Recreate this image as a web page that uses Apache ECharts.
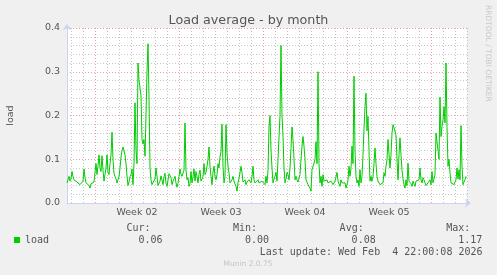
<!DOCTYPE html>
<html>
<head>
<meta charset="utf-8">
<script src="https://cdn.jsdelivr.net/npm/echarts@6/dist/echarts.min.js"></script>
<style>
  html, body { margin: 0; padding: 0; background: #f0f0f0; }
  #chart { width: 497px; height: 275px; }
</style>
</head>
<body>
<div id="chart"></div>
<script>
// ---- data (hours relative to Mon Jan 5 2026 00:00, 2-hour samples) ----
const startHour = -56;
const stepHours = 2;
const loadValues = [
  0.046, 0.05, 0.061, 0.05, 0.055, 0.072, 0.06, 0.053, 0.05, 0.056,
  0.048, 0.05, 0.044, 0.042, 0.046, 0.042, 0.05, 0.078, 0.058, 0.046,
  0.048, 0.044, 0.04, 0.034, 0.044, 0.046, 0.042, 0.048, 0.07, 0.09,
  0.065, 0.085, 0.11, 0.08, 0.072, 0.108, 0.075, 0.05, 0.046, 0.08,
  0.11, 0.07, 0.065, 0.09, 0.11, 0.162, 0.1, 0.068, 0.061, 0.055,
  0.046, 0.05, 0.06, 0.08, 0.105, 0.12, 0.128, 0.13, 0.11, 0.09,
  0.062, 0.04, 0.048, 0.06, 0.065, 0.078, 0.042, 0.09, 0.229, 0.12,
  0.09, 0.32, 0.282, 0.28, 0.245, 0.145, 0.135, 0.145, 0.107, 0.2,
  0.3, 0.364, 0.24, 0.08, 0.053, 0.042, 0.04, 0.045, 0.055, 0.08,
  0.06, 0.04, 0.038, 0.05, 0.062, 0.065, 0.042, 0.06, 0.068, 0.045,
  0.038, 0.052, 0.067, 0.065, 0.058, 0.042, 0.05, 0.055, 0.061, 0.046,
  0.036, 0.045, 0.06, 0.078, 0.066, 0.061, 0.065, 0.075, 0.183, 0.075,
  0.053, 0.058, 0.038, 0.045, 0.072, 0.046, 0.06, 0.078, 0.05, 0.072,
  0.061, 0.046, 0.066, 0.075, 0.05, 0.046, 0.06, 0.09, 0.065, 0.07,
  0.084, 0.1, 0.128, 0.084, 0.061, 0.042, 0.07, 0.084, 0.061, 0.053,
  0.065, 0.09, 0.08, 0.105, 0.118, 0.18, 0.084, 0.046, 0.061, 0.179,
  0.115, 0.084, 0.069, 0.046, 0.05, 0.053, 0.061, 0.05, 0.046, 0.038,
  0.027, 0.046, 0.056, 0.07, 0.084, 0.069, 0.048, 0.05, 0.053, 0.042,
  0.048, 0.046, 0.053, 0.05, 0.046, 0.061, 0.084, 0.053, 0.046, 0.046,
  0.05, 0.053, 0.046, 0.05, 0.046, 0.05, 0.053, 0.046, 0.042, 0.061,
  0.046, 0.075, 0.175, 0.2, 0.12, 0.08, 0.046, 0.055, 0.061, 0.07,
  0.05, 0.048, 0.053, 0.2, 0.36, 0.2, 0.152, 0.08, 0.046, 0.055,
  0.07, 0.065, 0.053, 0.08, 0.125, 0.174, 0.145, 0.1, 0.053, 0.061,
  0.053, 0.048, 0.05, 0.065, 0.1, 0.13, 0.152, 0.13, 0.1, 0.053,
  0.05, 0.042, 0.038, 0.034, 0.027, 0.076, 0.072, 0.076, 0.099, 0.14,
  0.09, 0.30, 0.09, 0.046, 0.061, 0.038, 0.065, 0.05, 0.046, 0.05,
  0.053, 0.046, 0.042, 0.046, 0.05, 0.053, 0.042, 0.046, 0.05, 0.053,
  0.07, 0.05, 0.046, 0.038, 0.053, 0.046, 0.042, 0.05, 0.046, 0.034,
  0.042, 0.053, 0.084, 0.061, 0.08, 0.13, 0.09, 0.29, 0.12, 0.061,
  0.046, 0.053, 0.038, 0.076, 0.046, 0.061, 0.11, 0.17, 0.22, 0.251,
  0.165, 0.198, 0.12, 0.05, 0.061, 0.05, 0.06, 0.09, 0.126, 0.09,
  0.06, 0.05, 0.046, 0.042, 0.04, 0.038, 0.046, 0.069, 0.061, 0.084,
  0.099, 0.145, 0.149, 0.08, 0.11, 0.16, 0.179, 0.172, 0.168, 0.155,
  0.1, 0.053, 0.11, 0.149, 0.11, 0.075, 0.055, 0.042, 0.034, 0.053,
  0.04, 0.091, 0.05, 0.053, 0.044, 0.038, 0.05, 0.046, 0.038, 0.05,
  0.046, 0.05, 0.053, 0.08, 0.053, 0.046, 0.058, 0.053, 0.046, 0.04,
  0.038, 0.046, 0.05, 0.053, 0.042, 0.072, 0.046, 0.055, 0.065, 0.16,
  0.16, 0.12, 0.1, 0.242, 0.152, 0.175, 0.19, 0.22, 0.183, 0.32,
  0.175, 0.084, 0.1, 0.069, 0.046, 0.042, 0.046, 0.042, 0.046, 0.053,
  0.08, 0.055, 0.076, 0.053, 0.177, 0.084, 0.042, 0.048, 0.053, 0.061
];
const weekStarts = [0, 168, 336, 504, 672];
const weekLabels = ['Week 02', 'Week 03', 'Week 04', 'Week 05'];
const weekLabelHours = [84, 252, 420, 588];
const yTicks = [0, 0.1, 0.2, 0.3, 0.4];
const statLabels = ['Cur:', 'Min:', 'Avg:', 'Max:'];
const statValues = ['0.06', '0.00', '0.08', '1.17'];
const seriesName = 'load';
const lastUpdate = 'Last update: Wed Feb  4 22:00:08 2026';
const xMin = -56, xMax = 744;

// ---- build ----
const seriesData = loadValues.map((v, i) => [startHour + i * stepHours, v]);
const dayLines = [];
for (let h = -48; h <= xMax; h += 24) {
  if (weekStarts.indexOf(h) >= 0) continue;
  dayLines.push({ xAxis: h, lineStyle: { color: '#c4c4c4', type: [1, 2], width: 1 } });
}
const weekLines = weekStarts.map(h => ({ xAxis: h, lineStyle: { color: '#e8a0a0', type: [1, 2], width: 1 } }));

const FONT = 'DejaVu Sans';
const MONO = 'DejaVu Sans Mono';
const chart = echarts.init(document.getElementById('chart'), null, { renderer: 'canvas' });

const graphics = [];
statLabels.forEach((t, k) => {
  graphics.push({ type: 'text', x: 150.5 + 106.6 * k, y: 228, silent: true,
    style: { text: t, font: '10px ' + MONO, fill: '#555', align: 'right', verticalAlign: 'middle' } });
  graphics.push({ type: 'text', x: 162.5 + 106.6 * k, y: 240, silent: true,
    style: { text: statValues[k], font: '10px ' + MONO, fill: '#555', align: 'right', verticalAlign: 'middle' } });
});
graphics.push({ type: 'text', x: 482.5, y: 252, silent: true,
  style: { text: lastUpdate, font: '10px ' + MONO, fill: '#555', align: 'right', verticalAlign: 'middle' } });
graphics.push({ type: 'text', x: 248, y: 264, silent: true,
  style: { text: 'Munin 2.0.75', font: '7.5px ' + FONT, fill: '#c4c4c4', align: 'center', verticalAlign: 'middle' } });
graphics.push({ type: 'text', x: 488, y: 5, rotation: -Math.PI / 2, silent: true,
  style: { text: 'RRDTOOL / TOBI OETIKER', font: '7.5px ' + FONT, fill: '#c8c8c8', align: 'left', verticalAlign: 'middle' } });

chart.setOption({
  backgroundColor: '#f0f0f0',
  animation: false,
  title: {
    text: 'Load average - by month',
    left: 'center', top: 9,
    textStyle: { fontFamily: FONT, fontSize: 12.7, fontWeight: 'normal', color: '#555' }
  },
  legend: {
    data: [seriesName],
    left: 14, top: 235, padding: 0,
    icon: 'rect', itemWidth: 6, itemHeight: 6,
    selectedMode: false,
    textStyle: { fontFamily: MONO, fontSize: 10, color: '#555' }
  },
  grid: {
    left: 67, right: 30, top: 28, bottom: 72,
    outerBoundsMode: 'none', containLabel: false,
    show: true, backgroundColor: '#ffffff', borderWidth: 0
  },
  xAxis: {
    type: 'value', min: xMin, max: xMax,
    axisLine: { show: true, onZero: false, lineStyle: { color: '#cdd3f5', width: 1 },
      symbol: ['none', 'arrow'], symbolSize: [7, 6], symbolOffset: [0, 4] },
    axisTick: { show: false },
    splitLine: { show: false },
    axisLabel: {
      customValues: weekLabelHours,
      formatter: v => weekLabels[weekLabelHours.indexOf(v)] || '',
      fontFamily: FONT, fontSize: 9.5, color: '#555', margin: 5
    }
  },
  yAxis: {
    type: 'value', min: 0, max: 0.4, interval: 0.1,
    name: 'load', nameLocation: 'middle', nameRotate: 90, nameGap: 51,
    nameTextStyle: { fontFamily: FONT, fontSize: 9.5, color: '#555' },
    axisLine: { show: true, onZero: false, lineStyle: { color: '#cdd3f5', width: 1 },
      symbol: ['none', 'arrow'], symbolSize: [7, 6], symbolOffset: [0, 4] },
    axisTick: { show: false },
    axisLabel: {
      formatter: v => yTicks.indexOf(Math.round(v * 10) / 10) >= 0 ? v.toFixed(1) : '',
      fontFamily: FONT, fontSize: 9.5, color: '#555', margin: 7
    },
    splitLine: { show: true, lineStyle: { color: '#e8a0a0', type: [1, 2], width: 1 } },
    minorTick: { show: false, splitNumber: 5 },
    minorSplitLine: { show: true, lineStyle: { color: '#c8c8c8', type: [1, 2], width: 1 } }
  },
  graphic: graphics,
  series: [
    {
      type: 'line', name: seriesName, data: seriesData, z: 3,
      showSymbol: false, symbol: 'none', smooth: false,
      lineStyle: { color: '#00cc00', width: 1 },
      itemStyle: { color: '#00cc00' },
      markLine: {
        silent: true, symbol: ['none', 'none'], animation: false, z: 1,
        label: { show: false },
        data: dayLines.concat(weekLines)
      }
    }
  ]
});
</script>
</body>
</html>
